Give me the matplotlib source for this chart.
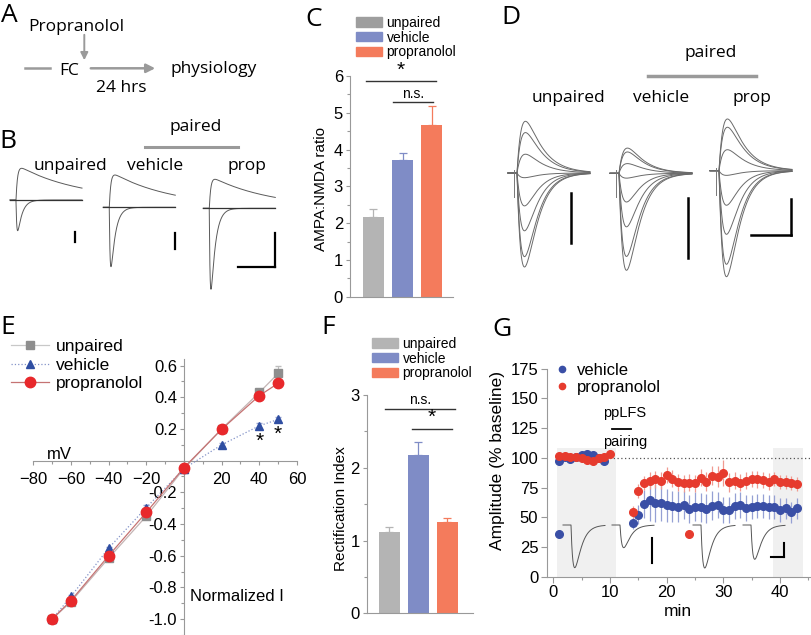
import numpy as np
import matplotlib
matplotlib.use("Agg")
import matplotlib.pyplot as plt
from matplotlib.patches import Patch
from matplotlib.lines import Line2D
from matplotlib.ticker import MultipleLocator, FormatStrFormatter

W, H = 812, 635
plt.rcParams["font.family"] = ["Liberation Sans", "DejaVu Sans"]
HAND = ["Open Sans", "DejaVu Sans"]  # font for the hand-placed figure labels

# ---------------- data ----------------
groups = ["unpaired", "vehicle", "propranolol"]
bar_colors = ["#b4b4b4", "#7f8cc6", "#f47b5c"]

ampa_nmda = [2.18, 3.71, 4.68]
ampa_nmda_err = [0.20, 0.19, 0.50]
rect_index = [1.12, 2.17, 1.26]
rect_index_err = [0.07, 0.18, 0.05]

iv_mv = [-70, -60, -40, -20, 0, 20, 40, 50]
iv_unpaired = [-1.0, -0.89, -0.615, -0.35, -0.05, 0.20, 0.43, 0.55]
iv_vehicle = [-1.0, -0.857, -0.552, -0.296, -0.05, 0.10, 0.22, 0.26]
iv_prop = [-1.0, -0.883, -0.60, -0.326, -0.044, 0.198, 0.41, 0.488]
iv_unpaired_err = [0.0, 0.01, 0.015, 0.015, 0.01, 0.01, 0.015, 0.05]
iv_vehicle_err = [0.0, 0.01, 0.01, 0.015, 0.01, 0.01, 0.015, 0.015]
iv_prop_err = [0.0, 0.01, 0.015, 0.015, 0.01, 0.01, 0.02, 0.025]

veh_base_min = [1, 2, 3, 4, 5, 6, 7, 8, 9]
veh_base = [97, 101, 99, 101, 102, 103, 102, 100, 97]
veh_base_err = [3, 2, 2, 2, 2, 2, 2, 2, 3]
prop_base_min = [1, 2, 3, 4, 5, 6, 7, 8, 9, 10]
prop_base = [101.5, 101.5, 101, 100.5, 99.5, 98.5, 97.5, 99.5, 101, 103]
prop_base_err = [2, 2, 2, 2, 2, 2, 2, 2, 2, 2]
post_min = list(range(14, 44))
veh_post = [44.9, 51.9, 61.1, 64.5, 61.7, 61.7, 60.0, 59.4, 58.9, 60.3,
            56.9, 58.9, 58.3, 57.2, 59.7, 60.3, 56.1, 56.1, 59.7, 60.3,
            57.5, 58.9, 59.4, 59.4, 58.9, 58.9, 56.1, 57.5, 54.1, 57.5]
veh_post_err = [5, 8, 12, 18, 16, 15, 14, 13, 13, 12, 12, 12, 12, 12, 12,
                11, 11, 11, 11, 11, 11, 10, 10, 10, 10, 10, 10, 9, 9, 9]
prop_post = [54.1, 72.3, 79.0, 80.7, 81.9, 80.7, 85.5, 82.4, 79.3, 78.5,
             79.0, 78.5, 83.3, 79.9, 84.7, 84.1, 86.9, 79.3, 80.7, 79.0,
             80.7, 82.1, 81.9, 81.3, 79.9, 81.9, 79.9, 79.6, 79.0, 77.7]
prop_post_err = [5, 6, 6, 7, 7, 7, 7, 7, 7, 7, 7, 7, 7, 8, 8, 9, 11, 8, 7,
                 7, 7, 7, 7, 7, 7, 6, 6, 6, 6, 6]
g_tag_min = [1, 24]
g_tag_val = [36, 36]

# example trace amplitudes (in pixels of the figure)
b_out_amp = [31.7, 32.3, 29.0]   # +40 mV trace
b_in_amp = [30.7, 59.4, 81.0]    # -70 mV trace
d_peak = [94, 97, 106]           # -70 mV peak of the I-V family
g_dip = [42.7, 22.7, 43.0, 34.3]

VEH_BLUE = "#3a4fa6"
PROP_RED = "#e63b2e"


def psc(t, rise, decay):
    w = np.exp(-t / decay) - np.exp(-t / rise)
    w[t < 0] = 0
    return w / w.max()


fig = plt.figure(figsize=(W / 100, H / 100), dpi=100)


def place(x0, y0, x1, y1):
    return fig.add_axes([x0 / W, 1 - y1 / H, (x1 - x0) / W, (y1 - y0) / H])


def style_bar_axes(ax):
    for s in ["top", "right"]:
        ax.spines[s].set_visible(False)
    for s in ["left", "bottom"]:
        ax.spines[s].set_color("#999999")
        ax.spines[s].set_linewidth(0.8)
    ax.tick_params(axis="x", bottom=False, labelbottom=False)
    ax.tick_params(axis="y", which="both", colors="#999999", labelcolor="black",
                   labelsize=12, length=3, width=0.8, pad=2)
    ax.tick_params(axis="y", which="minor", length=2)
    ax.yaxis.set_minor_locator(MultipleLocator(0.5))
    ax.patch.set_alpha(0)


def bars(ax, vals, errs):
    x = np.arange(len(vals))
    ax.bar(x, vals, width=0.73, color=bar_colors, zorder=2)
    for i in range(len(vals)):
        ax.errorbar(x[i], vals[i], yerr=[[0], [errs[i]]], fmt="none",
                    ecolor=bar_colors[i], elinewidth=0.9, capsize=3, capthick=0.9, zorder=1)


def sig(ax, x0, x1, y, label, size):
    ax.plot([x0, x1], [y, y], color="#333333", lw=1.0, clip_on=False)
    ax.text((x0 + x1) / 2, y + 0.03, label, ha="center", va="bottom",
            fontsize=size, clip_on=False)


# ---------------- C ----------------
axc = place(350, 76, 453, 296.7)
bars(axc, ampa_nmda, ampa_nmda_err)
axc.set_xlim(-0.797, 2.725)
axc.set_ylim(0, 6)
axc.set_yticks(range(7))
style_bar_axes(axc)
axc.set_ylabel("AMPA:NMDA ratio", fontsize=11)
axc.yaxis.set_label_coords(-0.21, 0.49)
sig(axc, -0.25, 2.14, 5.865, "*", 15)
sig(axc, 0.67, 2.04, 5.30, "n.s.", 10)
leg_gray = ["#9e9e9e", bar_colors[1], bar_colors[2]]
axc.legend(handles=[Patch(color=c, label=g) for c, g in zip(leg_gray, groups)],
           loc="upper left", bbox_to_anchor=(356 / W, 1 - 16 / H),
           bbox_transform=fig.transFigure, frameon=False, fontsize=10,
           handlelength=1.9, handleheight=0.65, labelspacing=0.05,
           handletextpad=0.3, borderpad=0, borderaxespad=0)

# ---------------- F ----------------
axf = place(366.7, 395, 473, 613.3)
bars(axf, rect_index, rect_index_err)
axf.set_xlim(-0.786, 2.88)
axf.set_ylim(0, 3)
axf.set_yticks(range(4))
style_bar_axes(axf)
axf.set_ylabel("Rectification Index", fontsize=11)
axf.yaxis.set_label_coords(-0.18, 0.48)
sig(axf, -0.155, 2.26, 2.806, "n.s.", 10)
sig(axf, 0.776, 2.155, 2.536, "*", 15)
axf.legend(handles=[Patch(color=c, label=g) for c, g in zip(bar_colors, groups)],
           loc="upper left", bbox_to_anchor=(372 / W, 1 - 337 / H),
           bbox_transform=fig.transFigure, frameon=False, fontsize=10,
           handlelength=1.9, handleheight=0.65, labelspacing=0.05,
           handletextpad=0.3, borderpad=0, borderaxespad=0)

# ---------------- E ----------------
axe = place(33.3, 359.2, 297, 635)
axe.set_xlim(-80, 60)
axe.set_ylim(-1.1, 0.64)
for s in ["top", "right"]:
    axe.spines[s].set_visible(False)
for s in ["left", "bottom"]:
    axe.spines[s].set_position(("data", 0))
    axe.spines[s].set_color("#999999")
    axe.spines[s].set_linewidth(0.8)
axe.set_xticks([-80, -60, -40, -20, 20, 40, 60])
axe.set_yticks([-1.0, -0.8, -0.6, -0.4, -0.2, 0.2, 0.4, 0.6])
axe.yaxis.set_major_formatter(FormatStrFormatter("%.1f"))
axe.xaxis.set_minor_locator(MultipleLocator(10))
axe.yaxis.set_minor_locator(MultipleLocator(0.1))
axe.tick_params(which="both", colors="#999999", labelcolor="black", labelsize=12,
                length=3, width=0.8, pad=2)
axe.tick_params(which="minor", length=2)
axe.tick_params(axis="x", pad=5)
axe.patch.set_alpha(0)
axe.errorbar(iv_mv, iv_unpaired, yerr=iv_unpaired_err, color="#c4b4b4", lw=0.9,
             marker="s", ms=5.5, mfc="#8e8e8e", mec="#8e8e8e", ecolor="#bdbdbd",
             elinewidth=0.8, capsize=2, zorder=2)
axe.errorbar(iv_mv, iv_vehicle, yerr=iv_vehicle_err, color="#8393c8", lw=0.9, ls=":",
             marker="^", ms=5.5, mfc="#2f4ea2", mec="#2f4ea2", ecolor="#9aa6d2",
             elinewidth=0.8, capsize=2, zorder=3)
axe.errorbar(iv_mv, iv_prop, yerr=iv_prop_err, color="#c57373", lw=0.9,
             marker="o", ms=7.5, mfc="#e8282b", mec="#e8282b", ecolor="#e08080",
             elinewidth=0.8, capsize=2, zorder=4)
axe.text(40, 0.12, "*", ha="center", va="center", fontsize=15)
axe.text(50, 0.168, "*", ha="center", va="center", fontsize=15)
axe.text(-66, 0.04, "mV", ha="center", va="center", fontsize=12)
axe.text(28, -0.86, "Normalized I", ha="center", va="center", fontsize=12)
e_handles = [
    Line2D([], [], color="#c8c8c8", lw=0.9, marker="s", ms=5.5, mfc="#8e8e8e", mec="#8e8e8e"),
    Line2D([], [], color="#8393c8", lw=0.9, ls=":", marker="^", ms=5.5, mfc="#2f4ea2", mec="#2f4ea2"),
    Line2D([], [], color="#c57373", lw=0.9, marker="o", ms=7.5, mfc="#e8282b", mec="#e8282b"),
]
axe.legend(handles=e_handles, labels=groups, loc="upper left",
           bbox_to_anchor=(11 / W, 1 - 339 / H), bbox_transform=fig.transFigure,
           frameon=False, fontsize=12.5, handlelength=2.2, labelspacing=0.2,
           handletextpad=0.4, borderpad=0, borderaxespad=0)

# ---------------- G ----------------
axg = place(546.7, 368.6, 810, 576.7)
axg.set_xlim(-1.16, 45.3)
axg.set_ylim(0, 175)
for s in ["top", "right"]:
    axg.spines[s].set_visible(False)
for s in ["left", "bottom"]:
    axg.spines[s].set_color("#999999")
    axg.spines[s].set_linewidth(0.8)
axg.set_xticks([0, 10, 20, 30, 40])
axg.set_yticks(range(0, 176, 25))
axg.xaxis.set_minor_locator(MultipleLocator(5))
axg.tick_params(which="both", colors="#999999", labelcolor="black", labelsize=12,
                length=4, width=0.8, pad=2)
axg.tick_params(which="minor", length=2)
axg.patch.set_alpha(0)
axg.fill_between([0.6, 11.0], 0, 108, color="#f0f0f0", lw=0, zorder=0)
axg.fill_between([38.7, 44.0], 0, 108, color="#f0f0f0", lw=0, zorder=0)
axg.hlines(100, 0.6, 45.3, colors="#555555", linestyles=(0, (1, 2)), lw=0.9)
axg.errorbar(veh_base_min + post_min, veh_base + veh_post,
             yerr=veh_base_err + veh_post_err, fmt="o", ms=5.5, color=VEH_BLUE,
             ecolor="#95a0d4", elinewidth=0.9, capsize=0, zorder=3)
axg.errorbar(prop_base_min + post_min, prop_base + prop_post,
             yerr=prop_base_err + prop_post_err, fmt="o", ms=5.5, color=PROP_RED,
             ecolor="#f09a90", elinewidth=0.9, capsize=0, zorder=4)
axg.plot(g_tag_min[:1], g_tag_val[:1], "o", ms=5.5, color=VEH_BLUE, zorder=4)
axg.plot(g_tag_min[1:], g_tag_val[1:], "o", ms=5.5, color=PROP_RED, zorder=4)
axg.plot([10.4, 13.8], [124, 124], color="black", lw=1.3)
axg.text(12.65, 138, "ppLFS", ha="center", va="center", fontsize=10.5)
axg.text(12.65, 113, "pairing", ha="center", va="center", fontsize=10.5)
axg.set_ylabel("Amplitude (% baseline)", fontsize=12.5)
axg.yaxis.set_label_coords(-0.16, 0.556)
axg.set_xlabel("min", fontsize=12.5, labelpad=3)
g_handles = [Line2D([], [], ls="none", marker="o", ms=4.5, color=VEH_BLUE),
             Line2D([], [], ls="none", marker="o", ms=4.5, color=PROP_RED)]
axg.legend(handles=g_handles, labels=["vehicle", "propranolol"], loc="upper left",
           bbox_to_anchor=(555 / W, 1 - 363 / H), bbox_transform=fig.transFigure,
           frameon=False, fontsize=12, handlelength=0.8, labelspacing=0.1,
           handletextpad=0.5, borderpad=0, borderaxespad=0)

# ---------------- overlay: schematic, labels and example traces ----------------
ov = fig.add_axes([0, 0, 1, 1])
ov.set_xlim(0, W)
ov.set_ylim(H, 0)
ov.axis("off")
ov.patch.set_alpha(0)

for letter, (lx, ly) in zip("ABCDEFG", [(9, 16), (8, 141), (314, 20), (511, 18),
                                       (8, 328), (328, 328), (502, 329)]):
    ov.text(lx, ly, letter, fontsize=19, ha="center", va="center", family=HAND)

GRAY = "#9a9a9a"
ov.text(76, 27, "Propranolol", fontsize=12.5, ha="center", va="center", family=HAND)
ov.annotate("", xy=(84.3, 63), xytext=(84.3, 32),
            arrowprops=dict(arrowstyle="-|>", color=GRAY, lw=1.4, mutation_scale=11))
ov.plot([25, 50], [68.3, 68.3], color=GRAY, lw=1.8)
ov.text(69, 71, "FC", fontsize=12.5, ha="center", va="center", family=HAND)
ov.annotate("", xy=(158, 68.3), xytext=(88, 68.3),
            arrowprops=dict(arrowstyle="-|>", color=GRAY, lw=1.8, mutation_scale=13))
ov.text(214, 69, "physiology", fontsize=12.5, ha="center", va="center", family=HAND)
ov.text(121, 88, "24 hrs", fontsize=12.5, ha="center", va="center", family=HAND)

# B labels
ov.text(196, 127, "paired", fontsize=12.5, ha="center", va="center", family=HAND)
ov.plot([145, 238.3], [146.7, 146.7], color=GRAY, lw=2.2)
for name, cx in zip(["unpaired", "vehicle", "prop"], [70.5, 155.5, 247]):
    ov.text(cx, 166, name, fontsize=12.5, ha="center", va="center", family=HAND)

# D labels
ov.text(711, 53, "paired", fontsize=12.5, ha="center", va="center", family=HAND)
ov.plot([648, 756], [75.7, 75.7], color=GRAY, lw=2.5)
for name, cx in zip(["unpaired", "vehicle", "prop"], [569, 661, 752]):
    ov.text(cx, 98, name, fontsize=12.5, ha="center", va="center", family=HAND)

TR = "#5a5a5a"
# B traces: -70 mV (inward) and +40 mV (outward)
b_x0 = [10, 103.3, 203.3]
b_base = [200, 207.3, 208.3]
t = np.linspace(0, 72, 800)
for i in range(3):
    tt = t - 6
    x = b_x0[i] + t
    ov.plot(x, b_base[i] - b_out_amp[i] * psc(tt, 1.5, 60), color=TR, lw=0.7)
    ov.plot(x, b_base[i] + b_in_amp[i] * psc(tt, 0.8, 4.5), color=TR, lw=0.7)
    ov.plot(x, np.full_like(x, b_base[i]), color="#333333", lw=0.9)
for sx, y0, y1 in [(75, 231.7, 241.7), (175, 233.3, 249), (275, 233.3, 267.3)]:
    ov.plot([sx, sx], [y0, y1], color="black", lw=1.6)
ov.plot([238.3, 275], [267.3, 267.3], color="black", lw=1.6)

# D traces: I-V family
d_x0 = [508, 610, 710]
d_base = [173, 173.3, 170.7]
t = np.linspace(0, 82, 900)
for i, iv in enumerate([iv_unpaired, iv_vehicle, iv_prop]):
    tt = t - 9
    x = d_x0[i] + t
    for val in iv:
        decay = 12 if val < 0 else 16
        ov.plot(x, d_base[i] - val * d_peak[i] * psc(tt, 5, decay), color="#6a6a6a", lw=0.7)
    ov.plot([d_x0[i] + 6, d_x0[i] + 6], [d_base[i] - 3, d_base[i] + 24], color="#777777", lw=0.7)
for sx, y0, y1 in [(571, 193, 243), (688, 198, 258), (791, 199, 235)]:
    ov.plot([sx, sx], [y0, y1], color="black", lw=1.8)
ov.plot([751, 791], [235, 235], color="black", lw=1.8)

# G inset traces
g_x0 = [563, 612, 693, 743]
t = np.linspace(0, 42, 500)
for i in range(4):
    ov.plot(g_x0[i] + t, 525 + g_dip[i] * psc(t - 8, 2.5, 6), color="#555555", lw=0.7)
ov.plot([652.3, 652.3], [538.3, 562.7], color="black", lw=1.5)
ov.plot([784, 784], [542.7, 556.7], color="black", lw=1.5)
ov.plot([770.7, 784], [556.7, 556.7], color="black", lw=1.5)

fig.savefig("out.png", dpi=100)
